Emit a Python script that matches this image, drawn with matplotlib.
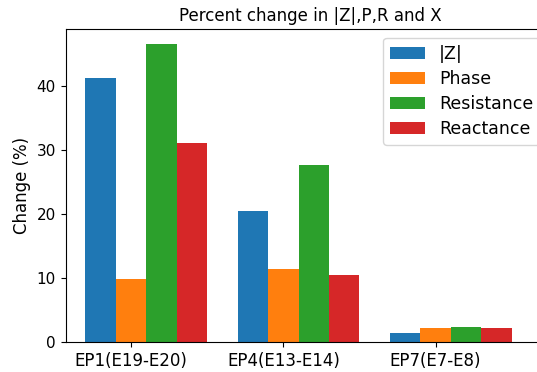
import numpy as np
import matplotlib
matplotlib.use("Agg")
import matplotlib.pyplot as plt

# electrode pairs and percent changes
pairs = ["EP1(E19-E20)", "EP4(E13-E14)", "EP7(E7-E8)"]
mag_z = [41.2, 20.4, 1.45]
phase = [9.8, 11.4, 2.23]
resistance = [46.5, 27.6, 2.39]
reactance = [31.0, 10.4, 2.23]

series = [("|Z|", mag_z), ("Phase", phase),
          ("Resistance", resistance), ("Reactance", reactance)]

fig = plt.figure(figsize=(5.37, 3.72), dpi=100)
# axes runs a little past the right edge, like the cropped original
ax = fig.add_axes([0.1223, 0.0806, 0.91, 0.8406])

x = np.arange(len(pairs))
w = 0.2
for i, (name, vals) in enumerate(series):
    ax.bar(x + (i - 1) * w, vals, w, label=name)

ax.set_xticks(x)
ax.set_xticklabels(pairs, fontsize=12)
ax.tick_params(axis="y", labelsize=11)
ax.set_xlim(-0.43, 2.78)
ax.set_ylim(0, 48.8)
ax.set_ylabel("Change (%)", fontsize=12)
ax.set_title("Percent change in |Z|,P,R and X", fontsize=12)
ax.legend(loc="upper left", bbox_to_anchor=(0.632, 1.0), fontsize=12.5,
          labelspacing=0.4)

fig.savefig("out.png", dpi=100)
